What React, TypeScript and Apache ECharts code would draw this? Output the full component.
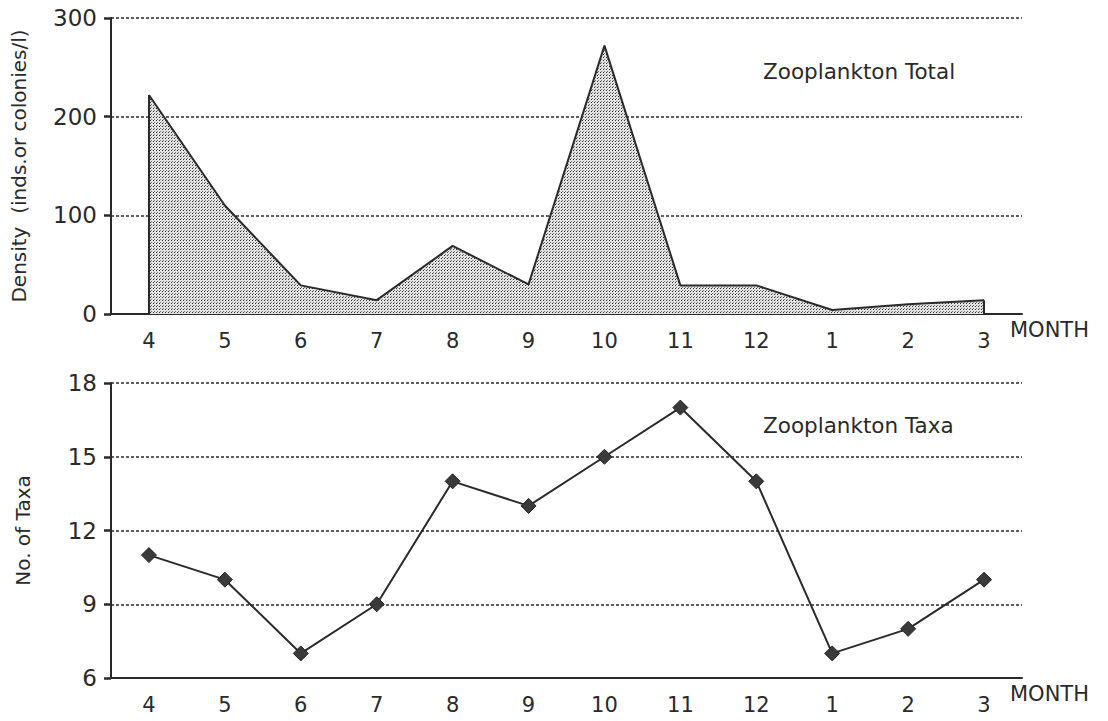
import React, { useEffect, useRef } from "react";
import * as echarts from "echarts";

const months = ["4", "5", "6", "7", "8", "9", "10", "11", "12", "1", "2", "3"];
const densityTotal = [222, 110, 29, 14, 69, 30, 272, 29, 29, 4, 10, 14];
const taxaCount = [11, 10, 7, 9, 14, 13, 15, 17, 14, 7, 8, 10];
const densityTicks = { min: 0, max: 300, interval: 100 };
const taxaTicks = { min: 6, max: 18, interval: 3 };

const INK = "#2a2a2a";
const FONT = "'DejaVu Sans', sans-serif";

function makeDots(): HTMLCanvasElement {
  const c = document.createElement("canvas");
  c.width = 3;
  c.height = 3;
  const ctx = c.getContext("2d")!;
  ctx.fillStyle = "#e2e2e2";
  ctx.fillRect(0, 0, 3, 3);
  ctx.fillStyle = "#333333";
  ctx.fillRect(0, 0, 1, 1);
  ctx.fillStyle = "#7a7a7a";
  ctx.fillRect(1, 2, 1, 1);
  return c;
}

export default function App() {
  const ref = useRef<HTMLDivElement>(null);
  useEffect(() => {
    if (!ref.current) return;
    document.body.style.margin = "0";
    const chart = echarts.init(ref.current, undefined, { renderer: "svg" });
    const xAxisBase = {
      type: "category",
      data: months,
      boundaryGap: true,
      axisLine: { lineStyle: { color: INK, width: 2 } },
      axisTick: { alignWithLabel: true, length: 8, lineStyle: { color: INK, width: 2.5 } },
      axisLabel: { color: INK, fontSize: 21, margin: 16, fontFamily: FONT },
      splitLine: { show: false },
      name: "MONTH",
      nameLocation: "end",
      nameGap: -12,
      nameTextStyle: {
        color: INK,
        fontSize: 21,
        fontFamily: FONT,
        align: "left",
        verticalAlign: "top",
        padding: [5, 0, 0, 0],
      },
    };
    const yAxisBase = {
      type: "value",
      nameLocation: "middle",
      nameRotate: 90,
      nameTextStyle: { color: INK, fontSize: 20, fontFamily: FONT },
      axisLine: { show: true, lineStyle: { color: INK, width: 2 } },
      axisTick: { show: true, length: 7, lineStyle: { color: INK, width: 2.5 } },
      axisLabel: { color: INK, fontSize: 23, margin: 14, fontFamily: FONT },
      splitLine: { show: true, lineStyle: { color: INK, width: 1.5, type: [3, 2] } },
    };
    chart.setOption({
      animation: false,
      backgroundColor: "#ffffff",
      title: [
        {
          text: "Zooplankton Total",
          left: 758,
          top: 55,
          textStyle: { color: INK, fontSize: 21.5, fontWeight: "normal", fontFamily: FONT },
        },
        {
          text: "Zooplankton Taxa",
          left: 758,
          top: 409,
          textStyle: { color: INK, fontSize: 21.5, fontWeight: "normal", fontFamily: FONT },
        },
      ],
      grid: [
        { left: 111, right: 86, top: 18, bottom: 407 },
        { left: 111, right: 86, top: 383, bottom: 43 },
      ],
      xAxis: [
        { ...xAxisBase, gridIndex: 0 },
        { ...xAxisBase, gridIndex: 1 },
      ],
      yAxis: [
        {
          ...yAxisBase,
          gridIndex: 0,
          ...densityTicks,
          name: "Density  (inds.or colonies/l)",
          nameGap: 82,
        },
        {
          ...yAxisBase,
          gridIndex: 1,
          ...taxaTicks,
          name: "No. of Taxa",
          nameGap: 78,
        },
      ],
      series: [
        {
          type: "line",
          xAxisIndex: 0,
          yAxisIndex: 0,
          data: densityTotal,
          symbol: "none",
          lineStyle: { color: INK, width: 2 },
          areaStyle: { color: { image: makeDots(), repeat: "repeat" }, opacity: 1 },
          markLine: {
            silent: true,
            symbol: "none",
            label: { show: false },
            lineStyle: { color: INK, width: 2, type: "solid" },
            data: [
              [
                { coord: [months[0], 0] },
                { coord: [months[0], densityTotal[0]] },
              ],
              [
                { coord: [months[months.length - 1], 0] },
                { coord: [months[months.length - 1], densityTotal[densityTotal.length - 1]] },
              ],
            ],
          },
        },
        {
          type: "line",
          xAxisIndex: 1,
          yAxisIndex: 1,
          data: taxaCount,
          symbol: "diamond",
          symbolSize: 15,
          itemStyle: { color: "#3a3a3a", borderColor: "#222", borderWidth: 1 },
          lineStyle: { color: INK, width: 2 },
        },
      ],
    });
    return () => chart.dispose();
  }, []);
  return <div ref={ref} style={{ width: 1108, height: 721 }} />;
}
